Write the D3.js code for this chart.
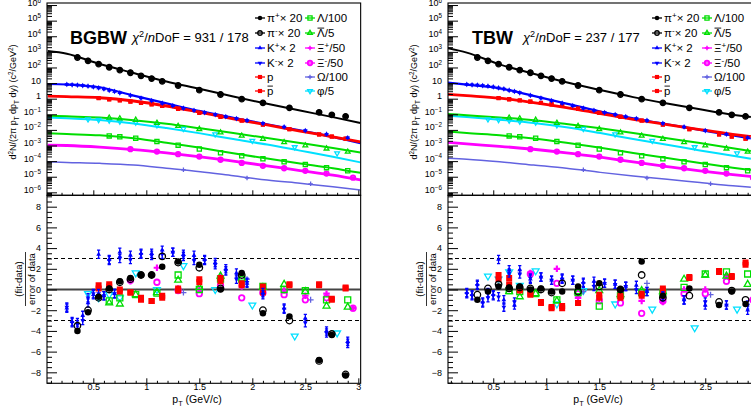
<!DOCTYPE html>
<html>
<head>
<meta charset="utf-8">
<script src="https://cdn.jsdelivr.net/npm/d3@7"></script>
<style>
  body { margin: 0; background: #fff; }
  svg { display: block; font-family: "Liberation Sans", Arial, Helvetica, sans-serif; }
</style>
</head>
<body>
<svg id="chart" width="751" height="407"></svg>
<script>
// ---------- measured spectra (same data in both panels) ----------
const piPt = [0.35, 0.45, 0.55, 0.65, 0.75, 0.85, 0.95, 1.05, 1.15, 1.3, 1.5, 1.7, 1.9, 2.1, 2.35, 2.63, 2.75, 2.88];
const piPlus = [447, 275, 166, 105, 69, 47, 29.5, 20, 13.2, 7.2, 3.6, 1.9, 0.95, 0.55, 0.263, 0.135, 0.093, 0.074];
const piMinus = [435, 268, 162, 103, 67, 46, 29, 19.5, 12.8, 7.0, 3.5, 1.85, 0.93, 0.54, 0.258, 0.133, 0.092, 0.073];

const kPt = [0.25, 0.3, 0.35, 0.4, 0.45, 0.5, 0.55, 0.6, 0.65, 0.7, 0.75, 0.85, 0.95, 1.05, 1.15, 1.25, 1.35, 1.45, 1.55, 1.65, 1.75, 1.85, 1.95, 2.1, 2.3, 2.5, 2.7, 2.9];
const kPlus = [8.3, 7.9, 7.6, 7.1, 6.5, 5.75, 5.0, 4.3, 3.55, 2.95, 2.45, 1.66, 1.12, 0.76, 0.525, 0.363, 0.251, 0.182, 0.132, 0.098, 0.072, 0.054, 0.041, 0.027, 0.0158, 0.0093, 0.0054, 0.0032];
const kMinus = [8.0, 7.6, 7.3, 6.8, 6.2, 5.5, 4.8, 4.1, 3.4, 2.85, 2.35, 1.6, 1.08, 0.73, 0.505, 0.35, 0.242, 0.175, 0.127, 0.094, 0.069, 0.052, 0.039, 0.026, 0.0152, 0.0089, 0.0052, 0.0031];

const pPt = [0.55, 0.65, 0.75, 0.85, 0.95, 1.05, 1.15, 1.3, 1.5, 1.7, 1.9, 2.1, 2.35, 2.63, 2.75, 2.88];
const proton = [1.10, 0.93, 0.79, 0.66, 0.54, 0.44, 0.35, 0.229, 0.126, 0.071, 0.040, 0.0224, 0.0112, 0.0052, 0.0038, 0.00275];
const antiProton = [1.06, 0.90, 0.77, 0.65, 0.53, 0.43, 0.34, 0.224, 0.123, 0.069, 0.039, 0.0219, 0.0110, 0.0051, 0.0037, 0.00270];

const lamPt = [0.65, 0.75, 0.9, 1.1, 1.3, 1.5, 1.7, 1.9, 2.1, 2.3, 2.5, 2.7, 2.9];
const lambda = [4.1e-3, 3.6e-3, 2.9e-3, 1.8e-3, 1.05e-3, 6.0e-4, 3.4e-4, 2.2e-4, 1.4e-4, 9.1e-5, 6.0e-5, 3.8e-5, 2.4e-5];
const antiLambda = [0.060, 0.054, 0.044, 0.028, 0.0178, 0.0112, 0.0068, 0.0042, 0.0026, 0.0016, 0.0010, 6.3e-4, 4.0e-4];

const xiPt = [0.85, 1.1, 1.3, 1.5, 1.7, 1.9, 2.1, 2.3, 2.5, 2.7, 2.95];
const xiPlus = [6.0e-4, 4.2e-4, 2.9e-4, 2.0e-4, 1.26e-4, 7.9e-5, 5.2e-5, 3.6e-5, 2.45e-5, 1.66e-5, 8.9e-6];
const xiMinus = [5.8e-4, 4.1e-4, 2.8e-4, 1.95e-4, 1.22e-4, 7.7e-5, 5.0e-5, 3.5e-5, 2.4e-5, 1.6e-5, 8.7e-6];

const omPt = [1.35, 1.95, 2.55];
const omega = [2.8e-5, 8.3e-6, 3.5e-6];

const phiPt = [0.45, 0.55, 0.65, 0.75, 0.9, 1.1, 1.35, 1.65, 2.0, 2.4, 2.8];
const phi = [0.048, 0.044, 0.040, 0.035, 0.030, 0.020, 0.0117, 0.0052, 0.0020, 7.9e-4, 3.2e-4];

// ---------- fit curves ----------
const fitPtBGBW = [0.07, 0.25, 0.56, 0.88, 1.19, 1.51, 1.82, 2.14, 2.45, 2.76, 3.02];
const fitPiBGBW = [1120, 760, 166, 44, 12.6, 4.2, 1.38, 0.47, 0.174, 0.066, 0.028];
const fitKBGBW = [8.7, 8.1, 5.4, 1.58, 0.5, 0.158, 0.060, 0.0229, 0.0093, 0.00355, 0.00141];
const fitPBGBW = [1.48, 1.35, 1.15, 0.71, 0.34, 0.132, 0.051, 0.0209, 0.0085, 0.00363, 0.00174];
const fitALamBGBW = [0.081, 0.074, 0.063, 0.042, 0.025, 0.0126, 0.0063, 0.0030, 0.00145, 6.9e-4, 3.55e-4];
const fitPhiBGBW = [0.063, 0.056, 0.043, 0.026, 0.0132, 0.0060, 0.0026, 0.00115, 4.7e-4, 1.9e-4, 8.3e-5];
const fitLamBGBW = [6.0e-3, 5.4e-3, 4.5e-3, 2.9e-3, 1.51e-3, 7.1e-4, 3.16e-4, 1.45e-4, 7.1e-5, 3.55e-5, 1.78e-5];
const fitXiBGBW = [1.07e-3, 1.0e-3, 7.9e-4, 5.5e-4, 3.4e-4, 1.9e-4, 1.0e-4, 5.0e-5, 2.5e-5, 1.26e-5, 6.3e-6];
const fitOmBGBW = [9.1e-5, 8.3e-5, 7.2e-5, 5.6e-5, 3.5e-5, 2.1e-5, 1.15e-5, 6.2e-6, 3.8e-6, 2.3e-6, 1.41e-6];

const fitPtTBW = [0.07, 0.25, 0.56, 0.88, 1.19, 1.51, 1.82, 2.14, 2.45, 2.76, 2.93];
const fitPiTBW = [1700, 890, 158, 40, 11.2, 3.55, 1.26, 0.49, 0.209, 0.095, 0.068];
const fitKTBW = [10.7, 7.9, 4.6, 1.51, 0.48, 0.151, 0.056, 0.0229, 0.0100, 0.00437, 0.00282];
const fitPTBW = [1.9, 1.55, 1.07, 0.56, 0.27, 0.112, 0.048, 0.0219, 0.0105, 0.00525, 0.0038];
const fitALamTBW = [0.105, 0.087, 0.063, 0.042, 0.024, 0.0126, 0.0063, 0.00295, 0.00145, 6.6e-4, 4.4e-4];
const fitPhiTBW = [0.081, 0.066, 0.045, 0.028, 0.0148, 0.0063, 0.0026, 0.00112, 4.8e-4, 2.19e-4, 1.41e-4];
const fitLamTBW = [7.9e-3, 6.3e-3, 4.5e-3, 2.8e-3, 1.51e-3, 7.2e-4, 3.3e-4, 1.58e-4, 7.6e-5, 3.8e-5, 2.7e-5];
const fitXiTBW = [1.58e-3, 1.26e-3, 8.9e-4, 5.75e-4, 3.4e-4, 1.78e-4, 8.9e-5, 4.5e-5, 2.4e-5, 1.38e-5, 1.05e-5];
const fitOmTBW = [1.51e-4, 1.32e-4, 9.1e-5, 5.6e-5, 3.5e-5, 1.9e-5, 1.1e-5, 6.8e-6, 4.2e-6, 2.6e-6, 2.1e-6];

// ---------- (fit-data)/error ----------
const resPiPlusBGBW = [-4.0, -2.2, -0.7, 0.1, 0.8, 1.1, 1.4, 1.4, 2.2, 2.7, 2.4, 0.0, 1.6, -2.3, -2.6, -6.8, -4.4, -8.3];
const resPiMinusBGBW = [-3.5, -2.0, -0.8, 0.0, 0.7, 1.0, 1.4, 1.4, 3.2, 2.6, 2.1, 0.1, 1.4, -2.0, -3.0, -6.9, -4.3, -8.2];
const resKPlusBGBW = [-1.8, -3.1, -3.2, -2.5, -1.3, -0.5, 3.4, -0.6, 2.9, -0.4, 3.6, 3.3, 3.5, 3.5, 3.8, 3.6, 3.4, 3.3, 2.9, 2.6, 2.0, 1.6, 0.6, -0.3, -1.8, -2.8, -4.0, -5.0];
const resKMinusBGBW = [-1.7, -3.2, -3.4, -3.0, -0.8, -0.4, -0.4, -0.6, 2.8, -0.4, 3.0, 2.9, 3.4, 3.3, 3.4, 3.6, 3.2, 2.8, 2.8, 2.4, 1.8, 1.0, 0.7, -0.5, -1.9, -3.2, -4.2, -5.2];
const resPBGBW = [0.4, 0.5, 0.0, -0.3, -0.8, -1.1, -0.6, 0.1, 1.0, 1.1, 0.6, 0.3, 0.5, 0.5, -0.9, 0.2];
const resPbarBGBW = [0.1, 0.3, -0.2, -0.3, -1.0, -1.1, -0.8, -0.1, 0.7, 0.8, 0.4, -0.3, 0.4, 0.4, -1.0, 0.1];
const resLamBGBW = [-1.1, -0.8, -0.5, -0.35, 1.4, 0.0, 1.0, 1.0, 0.3, 0.0, -0.1, -1.0, -1.0];
const resALamBGBW = [-1.3, -1.4, -0.5, -0.3, 0.9, 0.2, 1.3, 1.1, 0.2, 0.5, -0.2, -1.6, -1.7];
const resXiPlusBGBW = [0.8, 2.1, 0.1, 0.0, 1.3, 0.3, -0.4, -0.1, -0.6, -0.4, -1.8];
const resXiMinusBGBW = [0.9, 0.7, -0.1, -0.4, 0.4, -0.8, -0.3, -0.5, -1.0, -0.8, -1.8];
const resOmBGBW = [-0.3, 1.0, -1.0];
const resPhiBGBW = [-0.4, -0.8, -0.5, -0.8, 1.6, 0.0, 2.3, 0.0, -1.5, -4.5, -4.2];

const resPiPlusTBW = [-1.0, -0.2, 0.3, 0.2, 0.3, 0.0, 0.1, -0.2, -0.2, 0.3, 0.6, 0.0, 2.7, -0.6, 0.1, -1.5, -0.2, -1.4];
const resPiMinusTBW = [-0.5, 0.1, 0.5, 0.1, 0.2, 0.1, 0.0, -0.3, 0.6, -0.2, 0.3, 0.0, 1.4, -0.8, -0.6, -1.2, -0.1, -1.0];
const resKPlusTBW = [-0.3, -0.5, 0.5, -1.2, -0.3, -0.5, 2.9, -1.0, 1.9, -1.5, 1.9, 1.0, 1.2, 0.9, 1.1, 0.9, 0.7, 0.8, 0.6, 0.5, 0.3, 0.4, -0.2, -0.7, -1.0, -1.5, -1.5, -2.0];
const resKMinusTBW = [-0.4, -0.6, 0.4, -1.3, -0.8, -0.6, -0.7, -1.7, 1.6, -1.2, 1.5, 1.1, 1.2, 0.9, 1.0, 0.9, 0.6, 0.3, 0.6, 0.5, 0.3, 0.0, -0.2, -0.6, -1.0, -1.2, -1.5, -1.5];
const resPTBW = [1.4, 1.1, 0.0, -0.5, -1.2, -1.7, -1.6, -1.3, -0.5, -0.8, -0.4, 0.1, 1.2, 1.8, 1.3, 2.6];
const resPbarTBW = [1.0, 0.5, -0.1, -0.4, -1.3, -1.8, -1.8, -1.3, -0.8, -0.6, -0.6, -0.1, 1.1, 1.7, 1.2, 2.4];
const resLamTBW = [-0.1, -0.2, -0.4, -1.0, -0.3, -1.6, -0.6, -0.3, -0.3, 0.2, 1.5, 1.7, 1.5];
const resALamTBW = [-0.2, -0.7, -0.4, -1.1, -0.2, -0.1, -0.5, -0.1, -0.2, 1.0, 1.4, 1.3, 0.5];
const resXiPlusTBW = [1.6, 2.0, -0.8, -0.9, -0.2, -1.1, -1.2, 0.0, 0.0, 1.3, -1.0];
const resXiMinusTBW = [1.5, 0.6, -0.4, -1.1, -1.3, -2.3, -1.1, -0.4, -0.4, 0.8, -1.0];
const resOmTBW = [-0.2, 0.6, -0.5];
const resPhiTBW = [1.3, 1.0, 1.7, 0.4, 1.8, -1.4, -0.1, -1.4, -1.9, -3.7, -1.9];

// ---------- styling ----------
const BLACK = '#000000', BLUE = '#0000ff', RED = '#ff0000', GREEN = '#00dd00',
      MAGENTA = '#ff00ff', SLATE = '#6262e0', CYAN = '#00e0ff';

const species = [
  { key: 'piPlus', label: 'π^{+}× 20', color: BLACK, marker: 'circleF', pt: piPt, data: piPlus, res: 'PiPlus', size: 5.5 },
  { key: 'piMinus', label: 'π^{-}× 20', color: BLACK, marker: 'circleO', pt: piPt, data: piMinus, res: 'PiMinus', size: 5.5 },
  { key: 'kPlus', label: 'K^{+}× 2', color: BLUE, marker: 'triUpF', pt: kPt, data: kPlus, res: 'KPlus', bars: true },
  { key: 'kMinus', label: 'K^{-}× 2', color: BLUE, marker: 'triDownF', pt: kPt, data: kMinus, res: 'KMinus', bars: true },
  { key: 'p', label: 'p', color: RED, marker: 'squareF', pt: pPt, data: proton, res: 'P' },
  { key: 'pbar', label: '#bar{p}', color: RED, marker: 'squareF', pt: pPt, data: antiProton, res: 'Pbar' },
  { key: 'lam', label: 'Λ/100', color: GREEN, marker: 'squareO', pt: lamPt, data: lambda, res: 'Lam' },
  { key: 'alam', label: '#bar{Λ}/5', color: GREEN, marker: 'triUpO', pt: lamPt, data: antiLambda, res: 'ALam' },
  { key: 'xiPlus', label: 'Ξ^{+}/50', color: MAGENTA, marker: 'crossF', pt: xiPt, data: xiPlus, res: 'XiPlus' },
  { key: 'xiMinus', label: 'Ξ^{-}/50', color: MAGENTA, marker: 'circleO2', pt: xiPt, data: xiMinus, res: 'XiMinus' },
  { key: 'om', label: 'Ω/100', color: SLATE, marker: 'plus', pt: omPt, data: omega, res: 'Om' },
  { key: 'phi', label: 'φ/5', color: CYAN, marker: 'triDownO', pt: phiPt, data: phi, res: 'Phi' }
];

const fitStyles = [
  { key: 'Om', color: SLATE, width: 1.5 },
  { key: 'Xi', color: MAGENTA, width: 2.8 },
  { key: 'Lam', color: GREEN, width: 2 },
  { key: 'Phi', color: CYAN, width: 2 },
  { key: 'ALam', color: GREEN, width: 2 },
  { key: 'K', color: BLUE, width: 2.2 },
  { key: 'P', color: RED, width: 2.8 },
  { key: 'Pi', color: BLACK, width: 2 }
];

const panels = [
  { name: 'BGBW', chi: '931 / 178', left: 47, ptMin: 0.063, fitPt: fitPtBGBW, suffix: 'BGBW', shift: 0, legShift: 0, titleX: 70, chiX: 132 },
  { name: 'TBW', chi: '237 / 177', left: 448, ptMin: 0.073, fitPt: fitPtTBW, suffix: 'TBW', shift: 401, legShift: 397, titleX: 472, chiX: 523 }
];

const table = {
  fitPiBGBW, fitKBGBW, fitPBGBW, fitALamBGBW, fitPhiBGBW, fitLamBGBW, fitXiBGBW, fitOmBGBW,
  fitPiTBW, fitKTBW, fitPTBW, fitALamTBW, fitPhiTBW, fitLamTBW, fitXiTBW, fitOmTBW,
  resPiPlusBGBW, resPiMinusBGBW, resKPlusBGBW, resKMinusBGBW, resPBGBW, resPbarBGBW,
  resLamBGBW, resALamBGBW, resXiPlusBGBW, resXiMinusBGBW, resOmBGBW, resPhiBGBW,
  resPiPlusTBW, resPiMinusTBW, resKPlusTBW, resKMinusTBW, resPTBW, resPbarTBW,
  resLamTBW, resALamTBW, resXiPlusTBW, resXiMinusTBW, resOmTBW, resPhiTBW
};

const W = 751;
const ptMax = 3.022, pxPerGeV = 106;
const topY0 = 3, midY = 195.3, botY = 383.3;

const svg = d3.select('#chart');

const yTop = d3.scaleLog().domain([6.46e-7, 1.35e6]).range([midY, topY0]);
const yRes = d3.scaleLinear().domain([-9.06, 9.1]).range([botY, midY]);

// text with ^{sup} _{sub} #bar{..} #it{..}
function rich(text, str, fs, supShift = 0.36) {
  const parts = str.split(/(\^\{[^}]*\}|_\{[^}]*\}|#bar\{[^}]*\}|#it\{[^}]*\})/).filter(s => s);
  let shift = 0;
  const bars = [];
  parts.forEach(p => {
    let txt = p, off = 0, small = false, bar = false, it = false;
    if (p.startsWith('^{')) { txt = p.slice(2, -1); off = -supShift * fs; small = true; }
    else if (p.startsWith('_{')) { txt = p.slice(2, -1); off = 0.3 * fs; small = true; }
    else if (p.startsWith('#bar{')) { txt = p.slice(5, -1); bar = true; }
    else if (p.startsWith('#it{')) { txt = p.slice(4, -1); it = true; }
    const ts = text.append('tspan').attr('dy', off - shift).text(txt);
    if (small) ts.attr('font-size', 0.7 * fs);
    if (bar) bars.push(ts);
    if (it) ts.attr('font-style', 'italic');
    shift = off;
  });
  // overline drawn by hand
  bars.forEach(ts => {
    const n = ts.node();
    const s = n.getStartPositionOfChar(0);
    const len = n.getComputedTextLength();
    d3.select(text.node().parentNode).append('line')
      .attr('x1', s.x + 0.5).attr('x2', s.x + len - 0.5)
      .attr('y1', s.y - 0.8 * fs).attr('y2', s.y - 0.8 * fs)
      .attr('stroke', text.attr('fill') || '#000').attr('stroke-width', 0.9);
  });
}

function drawMarker(g, type, color, cx, cy, s) {
  if (type === 'plus') {
    const h = s / 2;
    g.append('path').attr('d', `M${cx - h},${cy}H${cx + h}M${cx},${cy - h}V${cy + h}`)
      .attr('stroke', color).attr('stroke-width', 1.3).attr('fill', 'none');
    return;
  }
  let sym, area;
  if (type.startsWith('circle')) { sym = d3.symbolCircle; area = Math.PI * s * s / 4; }
  else if (type.startsWith('square')) { sym = d3.symbolSquare; area = s * s * 0.85; }
  else if (type.startsWith('tri')) { sym = d3.symbolTriangle; area = s * s * 0.48; }
  else { sym = d3.symbolCross; area = s * s * 0.56; }
  const open = /O2?$/.test(type);
  const rot = type.startsWith('triDown') ? ' rotate(180)' : '';
  g.append('path')
    .attr('d', d3.symbol(sym, area)())
    .attr('transform', `translate(${cx},${cy})${rot}`)
    .attr('fill', open ? 'none' : color)
    .attr('stroke', open ? color : 'none')
    .attr('stroke-width', type === 'circleO2' ? 1.8 : 1.3);
}

const fmtExp = d => {
  const k = Math.round(Math.log10(d));
  if (k === 0) return '1';
  if (k === 1) return '10';
  return '10^{' + String(k).replace('-', '−') + '}';
};

panels.forEach(pn => {
  const right = pn.left + (ptMax - pn.ptMin) * pxPerGeV;
  const x = d3.scaleLinear().domain([pn.ptMin, ptMax]).range([pn.left, right]);
  const g = svg.append('g');

  // clip regions
  const cid = 'clip' + pn.name;
  const defs = g.append('defs');
  defs.append('clipPath').attr('id', cid + 't').append('rect')
    .attr('x', pn.left).attr('y', topY0).attr('width', right - pn.left).attr('height', midY - topY0);
  defs.append('clipPath').attr('id', cid + 'b').append('rect')
    .attr('x', pn.left).attr('y', midY).attr('width', right - pn.left).attr('height', botY - midY);

  // ---- top: spectra ----
  const top = g.append('g').attr('clip-path', `url(#${cid}t)`);
  const line = d3.line().x(d => x(d[0])).y(d => yTop(d[1])).curve(d3.curveMonotoneX);
  fitStyles.forEach(fs => {
    const vals = table['fit' + fs.key + pn.suffix];
    top.append('path')
      .attr('d', line(pn.fitPt.map((p, i) => [p, vals[i]])))
      .attr('fill', 'none').attr('stroke', fs.color).attr('stroke-width', fs.width);
  });
  species.slice().reverse().forEach(sp => {
    sp.pt.forEach((p, i) => drawMarker(top, sp.marker, sp.color, x(p), yTop(sp.data[i]), sp.size || 4.5));
  });

  // ---- bottom: residuals ----
  const bot = g.append('g').attr('clip-path', `url(#${cid}b)`);
  bot.append('line').attr('x1', pn.left).attr('x2', right).attr('y1', yRes(0)).attr('y2', yRes(0))
    .attr('stroke', '#444').attr('stroke-width', 2);
  [3, -3].forEach(v => {
    bot.append('line').attr('x1', pn.left).attr('x2', right).attr('y1', yRes(v)).attr('y2', yRes(v))
      .attr('stroke', '#000').attr('stroke-width', 1.1).attr('stroke-dasharray', '4,3');
  });
  species.slice().reverse().forEach(sp => {
    const res = table['res' + sp.res + pn.suffix];
    sp.pt.forEach((p, i) => {
      const cx = x(p), cy = yRes(res[i]);
      if (sp.bars) {
        const y1 = yRes(res[i] + 0.4), y2 = yRes(res[i] - 0.4);
        bot.append('path').attr('d', `M${cx},${y1}V${y2}M${cx - 1.6},${y1}H${cx + 1.6}M${cx - 1.6},${y2}H${cx + 1.6}`)
          .attr('stroke', sp.color).attr('stroke-width', 1.3).attr('fill', 'none');
        drawMarker(bot, sp.marker, sp.color, cx, cy, 4.5);
      } else {
        const s = sp.marker === 'plus' ? 6 : sp.marker === 'circleO2' ? 5.5 : 6.5;
        drawMarker(bot, sp.marker, sp.color, cx, cy, s);
      }
    });
  });

  // ---- axes ----
  const minorX = d3.range(1, 31).map(i => i / 10).filter(v => Math.round(v * 10) % 5 !== 0);
  const majorX = [0.5, 1, 1.5, 2, 2.5, 3];
  [midY, botY].forEach(yy => {
    const ax = g.append('g').attr('transform', `translate(0,${yy})`);
    ax.append('g').call(d3.axisBottom(x).tickValues(minorX).tickSize(-2.5).tickFormat(''));
    const maj = ax.append('g').call(d3.axisBottom(x).tickValues(majorX).tickSize(-5).tickPadding(0)
      .tickFormat(yy === botY ? d3.format('') : ''));
    ax.selectAll('.domain').remove();
    ax.selectAll('line').attr('stroke', '#000');
    maj.selectAll('text').attr('font-size', 9).attr('fill', '#000');
    // labels that fall outside the page are dropped
    maj.selectAll('.tick').filter(d => x(d) > W - 3).select('text').remove();
  });

  // log y axis
  const majorY = d3.range(-6, 7).map(k => Math.pow(10, k));
  const minorY = [];
  d3.range(-7, 7).forEach(k => d3.range(2, 10).forEach(m => {
    const v = m * Math.pow(10, k);
    if (v > yTop.domain()[0] && v < yTop.domain()[1]) minorY.push(v);
  }));
  const ay = g.append('g').attr('transform', `translate(${pn.left},0)`);
  ay.append('g').call(d3.axisLeft(yTop).tickValues(minorY).tickSize(-5).tickFormat(''));
  const ayMaj = ay.append('g').call(d3.axisLeft(yTop).tickValues(majorY).tickSize(-10).tickPadding(6).tickFormat(''));
  ayMaj.selectAll('.tick text').each(function (d) {
    const t = d3.select(this).attr('font-size', 9).attr('fill', '#000');
    // keep the top label inside the page
    if (d > 5e5) t.attr('dy', '0.8em');
    rich(t, fmtExp(d), 9, d > 5e5 ? 0.25 : 0.36);
  });

  const ar = g.append('g').attr('transform', `translate(${pn.left},0)`);
  ar.append('g').call(d3.axisLeft(yRes).tickValues(d3.range(-9, 9.01, 0.5).filter(v => v % 2 !== 0)).tickSize(-5).tickFormat(''));
  ar.append('g').call(d3.axisLeft(yRes).tickValues(d3.range(-8, 9, 2)).tickSize(-10).tickPadding(6)
      .tickFormat(d => d < 0 ? '−' + Math.abs(d) : String(d)))
    .selectAll('text').attr('font-size', 9).attr('fill', '#000');
  g.selectAll('.domain').remove();
  g.selectAll('.tick line').attr('stroke', '#000');
  g.selectAll('g').attr('font-family', null);
  // unlabeled ticks keep no empty text nodes
  g.selectAll('.tick text').filter(function () { return !this.textContent; }).remove();

  // frames
  [[topY0, midY], [midY, botY]].forEach(([a, b]) => {
    g.append('rect').attr('x', pn.left).attr('y', a).attr('width', right - pn.left).attr('height', b - a)
      .attr('fill', 'none').attr('stroke', '#000').attr('stroke-width', 1.1);
  });

  // ---- titles ----
  g.append('text').attr('x', pn.titleX).attr('y', 44)
    .attr('font-size', 18).attr('font-weight', 'bold').text(pn.name);
  const chi = g.append('text').attr('x', pn.chiX).attr('y', 42).attr('font-size', 13);
  rich(chi, '#it{χ}^{2}/#it{n}DoF = ' + pn.chi, 13);

  const yt = g.append('text').attr('transform', `translate(${16 + pn.shift},102) rotate(-90)`)
    .attr('text-anchor', 'middle').attr('font-size', 9);
  rich(yt, 'd^{2}N/(2π p_{T} dp_{T} dy) (c^{2}/GeV^{2})', 9);

  g.append('text').attr('transform', `translate(${22 + pn.shift},279) rotate(-90)`)
    .attr('text-anchor', 'middle').attr('font-size', 9.5).text('(fit-data)');
  g.append('line').attr('x1', 25.5 + pn.shift).attr('x2', 25.5 + pn.shift).attr('y1', 252).attr('y2', 306)
    .attr('stroke', '#000').attr('stroke-width', 0.8);
  g.append('text').attr('transform', `translate(${35 + pn.shift},279) rotate(-90)`)
    .attr('text-anchor', 'middle').attr('font-size', 9.5).text('error of data');

  const xt = g.append('text').attr('x', 197 + pn.shift).attr('y', 402.5)
    .attr('text-anchor', 'middle').attr('font-size', 10.5);
  rich(xt, 'p_{T} (GeV/c)', 10.5);

  // ---- legend ----
  const rowsY = [18, 33, 48, 63, 77, 91];
  species.forEach((sp, i) => {
    const col = Math.floor(i / 6), row = i % 6;
    const mx = (col === 0 ? 260 : 310) + pn.legShift;
    const my = rowsY[row];
    g.append('line').attr('x1', mx - 5).attr('x2', mx + 5).attr('y1', my).attr('y2', my)
      .attr('stroke', sp.color).attr('stroke-width', 1.3);
    drawMarker(g, sp.marker, sp.color, mx, my, 4.5);
    const t = g.append('text').attr('x', mx + 7).attr('y', my + 4.3).attr('font-size', 11.5);
    rich(t, sp.label, 11.5);
  });
});
</script>
</body>
</html>
